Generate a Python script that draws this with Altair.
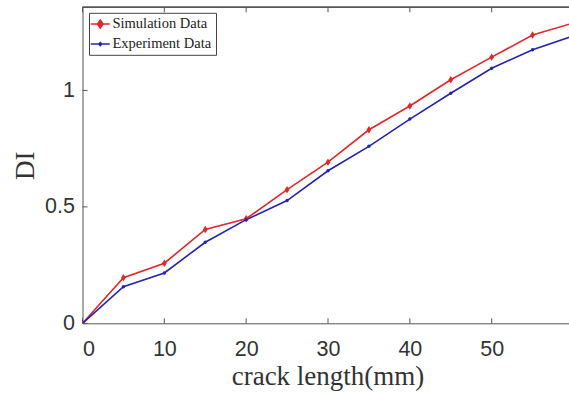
import altair as alt
import pandas as pd

# ---- data ----
crack_length = [0, 5, 10, 15, 20, 25, 30, 35, 40, 45, 50, 55, 60]
simulation = [0.0, 0.196, 0.258, 0.403, 0.449, 0.574, 0.692, 0.831, 0.933, 1.046, 1.143, 1.238, 1.290]
experiment = [0.0, 0.157, 0.216, 0.348, 0.445, 0.527, 0.655, 0.760, 0.877, 0.988, 1.095, 1.175, 1.234]
series_names = ["Simulation Data", "Experiment Data"]
series_colors = ["#E3262A", "#2323B5"]
x_ticks = [0, 10, 20, 30, 40, 50]
y_ticks = [0, 0.5, 1]

df = pd.DataFrame({
    "x": crack_length * 2,
    "y": simulation + experiment,
    "series": [series_names[0]] * len(crack_length) + [series_names[1]] * len(crack_length),
})
xt = pd.DataFrame({"t": x_ticks})
yt = pd.DataFrame({"t": y_ticks})

W, H = 486.5, 316
XDOM = [0, 59.45]
YDOM = [0, 1.357]
AX = "#555555"

xs = alt.Scale(domain=XDOM, nice=False, zero=False)
ys = alt.Scale(domain=YDOM, nice=False, zero=False)
cs = alt.Scale(domain=series_names, range=series_colors)

legend_paths = ["M-1.9,0H1.9M0,-0.8L0.55,0L0,0.8L-0.55,0Z",
                "M-1.9,0H1.9M0,-0.3L0.3,0L0,0.3L-0.3,0Z"]

leg = alt.Legend(
    title=None, orient="none", legendX=6.5, legendY=5.5,
    symbolSize=100, symbolStrokeWidth=1.6, symbolOpacity=1,
    labelOffset=5, padding=4, rowPadding=4,
    labelFont="Liberation Serif", labelFontSize=14.5, labelColor="#222222",
    strokeColor="#444444", fillColor="white",
)

lines = alt.Chart(df).mark_line(strokeWidth=1.6, clip=True).encode(
    x=alt.X("x:Q", scale=xs, axis=alt.Axis(
        values=x_ticks, title="crack length(mm)", format="~g",
        domainColor=AX, tickSize=0, grid=False, labelPadding=15,
        labelFont="Liberation Sans", labelFontSize=21.5, labelColor="#333333",
        titleFont="Liberation Serif", titleFontSize=27, titleFontWeight="normal",
        titleColor="#333333", titlePadding=4, titleX=245)),
    y=alt.Y("y:Q", scale=ys, axis=alt.Axis(
        values=y_ticks, title="DI", format="~g",
        domainColor=AX, tickSize=0, grid=False, labelPadding=8,
        labelFont="Liberation Sans", labelFontSize=21.5, labelColor="#333333",
        titleFont="Liberation Serif", titleFontSize=27, titleFontWeight="normal",
        titleColor="#333333", titlePadding=5)),
    color=alt.Color("series:N", scale=cs, legend=None),
)

points = alt.Chart(df).mark_point(filled=True, opacity=1, clip=True).encode(
    x=alt.X("x:Q", scale=xs),
    y=alt.Y("y:Q", scale=ys),
    color=alt.Color("series:N", scale=cs, legend=None),
    shape=alt.Shape("series:N", scale=alt.Scale(
        domain=series_names,
        range=["M0,-1L0.65,0L0,1L-0.65,0Z", "circle"]), legend=None),
    size=alt.Size("series:N", scale=alt.Scale(domain=series_names, range=[55, 12]), legend=None),
)

# legend-only layer (no rows drawn; scales have explicit domains)
legend_layer = alt.Chart(df).transform_filter("datum.x < 0").mark_point(
    filled=True, opacity=1).encode(
    x=alt.X("x:Q", scale=xs),
    y=alt.Y("y:Q", scale=ys),
    color=alt.Color("series:N", scale=cs, legend=leg),
    stroke=alt.Stroke("series:N", scale=cs, legend=leg),
    shape=alt.Shape("series:N", scale=alt.Scale(domain=series_names, range=legend_paths), legend=leg),
)

bottom_ticks = alt.Chart(xt).mark_rule(color=AX, strokeWidth=1).encode(
    x=alt.X("t:Q", scale=xs), y=alt.value(H), y2=alt.value(H - 5))
top_ticks = alt.Chart(xt).mark_rule(color=AX, strokeWidth=1).encode(
    x=alt.X("t:Q", scale=xs), y=alt.value(0), y2=alt.value(5))
left_ticks = alt.Chart(yt).mark_rule(color=AX, strokeWidth=1).encode(
    y=alt.Y("t:Q", scale=ys), x=alt.value(0), x2=alt.value(5))
top_line = alt.Chart(xt).mark_rule(color=AX, strokeWidth=1).encode(
    x=alt.value(0), x2=alt.value(W), y=alt.value(0))

chart = alt.layer(
    bottom_ticks, top_ticks, left_ticks, top_line, lines, points, legend_layer
).resolve_scale(
    color="independent", shape="independent", size="independent", stroke="independent"
).properties(
    width=W, height=H,
    autosize=alt.AutoSizeParams(type="none"),
    padding={"left": 82.5, "top": 7.3, "right": 0, "bottom": 71.7},
    background="white",
).configure_view(stroke=None)

chart.save("out.html", embed_options={"renderer": "svg", "actions": False})
